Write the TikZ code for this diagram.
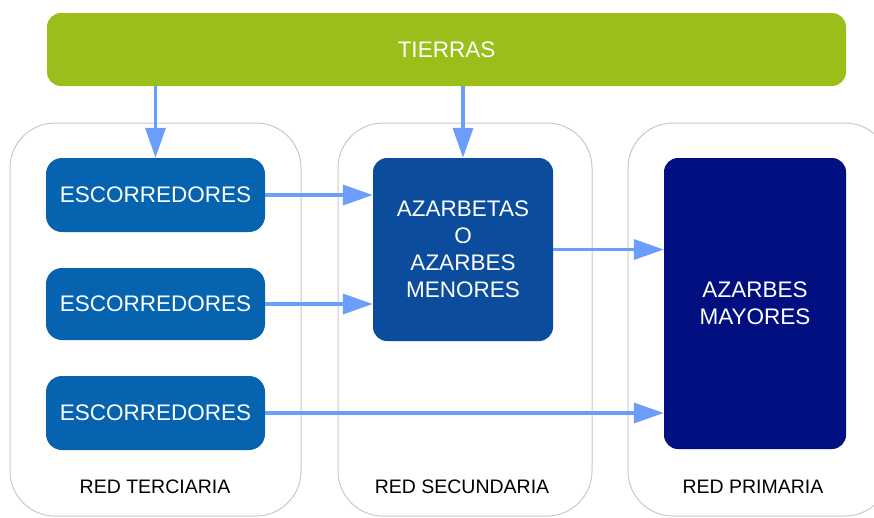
\documentclass[tikz,border=0pt]{standalone}
\usepackage{fontspec}
\setmainfont{Liberation Sans}
\usepackage{xcolor}
\usetikzlibrary{arrows.meta}

\definecolor{verde}{HTML}{9BBE1A}
\definecolor{azulesc}{HTML}{0563B0}
\definecolor{azulmed}{HTML}{0B4C9C}
\definecolor{azulosc}{HTML}{020F80}
\definecolor{flecha}{HTML}{6B9DFB}
\definecolor{gris}{HTML}{C8C8C8}

\begin{document}
\begin{tikzpicture}[x=1pt,y=-1pt,
  caja/.style={rectangle,rounded corners=16pt,text=white,align=center,
    font=\fontsize{22.5}{27}\selectfont,inner sep=0pt},
  red/.style={rectangle,draw=gris,line width=1pt,rounded corners=45pt,inner sep=0pt},
  etiqueta/.style={font=\fontsize{19.5}{23}\selectfont,text=black},
  conexion/.style={flecha,line width=3.5pt,-{Triangle[length=30pt,width=20pt]}}]

\useasboundingbox (0,0) rectangle (874,517);

% Define the containers
\node[red,minimum width=291pt,minimum height=393pt] (terciaria) at (155.5,319.5) {};
\node[red,minimum width=254pt,minimum height=393pt] (secundaria) at (465,319.5) {};
\node[red,minimum width=262pt,minimum height=393pt] (primaria) at (759,319.5) {};

% Draw the boxes
\node[caja,fill=verde,rounded corners=14pt,minimum width=799pt,minimum height=73pt] (tierras) at (446.5,49.5) {TIERRAS};
\node[caja,fill=azulesc,minimum width=219pt,minimum height=74pt] (esc1) at (155.5,195) {ESCORREDORES};
\node[caja,fill=azulesc,minimum width=219pt,minimum height=72pt] (esc2) at (155.5,304) {ESCORREDORES};
\node[caja,fill=azulesc,minimum width=219pt,minimum height=74pt] (esc3) at (155.5,413) {ESCORREDORES};
\node[caja,fill=azulmed,rounded corners=14pt,minimum width=180pt,minimum height=183pt] (menores) at (463,249.5) {AZARBETAS\\O\\AZARBES\\MENORES};
\node[caja,fill=azulosc,rounded corners=14pt,minimum width=182pt,minimum height=291pt] (mayores) at (755,303.5) {AZARBES\\MAYORES};

% Draw the labels
\node[etiqueta] (lterciaria) at (155,487) {RED TERCIARIA};
\node[etiqueta] (lsecundaria) at (462,487) {RED SECUNDARIA};
\node[etiqueta] (lprimaria) at (753,487) {RED PRIMARIA};

% Draw the arrows
\draw[conexion] (esc1.north |- tierras.south) -- (esc1.north);
\draw[conexion] (menores.north |- tierras.south) -- (menores.north);
\draw[conexion] (esc1.east) -- (esc1.east -| menores.west);
\draw[conexion] (esc2.east) -- (esc2.east -| menores.west);
\draw[conexion] (menores.east) -- (menores.east -| mayores.west);
\draw[conexion] (esc3.east) -- (esc3.east -| mayores.west);

\end{tikzpicture}
\end{document}
